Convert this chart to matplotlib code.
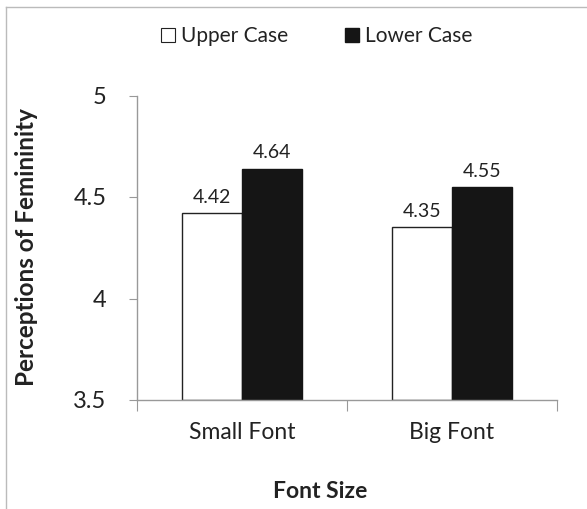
import numpy as np
import matplotlib.pyplot as plt
from matplotlib.lines import Line2D

plt.rcParams['font.family'] = ['Lato', 'DejaVu Sans']

categories = ['Small Font', 'Big Font']
upper_case = [4.42, 4.35]
lower_case = [4.64, 4.55]
series_names = ['Upper Case', 'Lower Case']

fig = plt.figure(figsize=(5.87, 5.09), dpi=100)
ax = fig.add_axes([137/587, 1 - 400/509, 420/587, 304.5/509])

x = np.arange(len(categories))
w = 60/210
ax.bar(x - w/2, np.array(upper_case) - 3.5, w, bottom=3.5,
       color='white', edgecolor='#222222', linewidth=1.0, label=series_names[0])
ax.bar(x + w/2, np.array(lower_case) - 3.5, w, bottom=3.5,
       color='#151515', edgecolor='#151515', linewidth=1.0, label=series_names[1])

# value labels above bars
for xs, vals in [(x - w/2, upper_case), (x + w/2, lower_case)]:
    for xi, v in zip(xs, vals):
        ax.text(xi, v + 0.035, '%.2f' % v, ha='center', va='bottom', fontsize=14, color='#222222')

ax.set_xlim(-0.5, 1.5)
ax.set_ylim(3.5, 5)
ax.set_yticks([3.5, 4, 4.5, 5])
ax.set_yticklabels(['3.5', '4', '4.5', '5'])
ax.set_xticks([-0.5, 0.5, 1.5], minor=False)
ax.set_xticklabels([])
ax.set_xticks(x, minor=True)
ax.set_xticklabels(categories, minor=True)
ax.tick_params(axis='x', which='major', length=8, color='#999999', direction='out')
ax.tick_params(axis='x', which='minor', length=0, pad=16, labelsize=16.5, labelcolor='#222222')
ax.tick_params(axis='y', length=6, color='#999999', pad=16, labelsize=17, labelcolor='#222222')

for s in ['top', 'right']:
    ax.spines[s].set_visible(False)
for s in ['left', 'bottom']:
    ax.spines[s].set_color('#999999')
    ax.spines[s].set_linewidth(1.0)

fig.text(27/587, 1 - 247/509, 'Perceptions of Femininity', rotation=90, ha='center', va='center',
         fontsize=17.5, fontweight='bold', color='#222222')
fig.text(320/587, 1 - 492/509, 'Font Size', ha='center', va='center',
         fontsize=16.5, fontweight='bold', color='#222222')

handles = [Line2D([], [], marker='s', linestyle='', markersize=10, markerfacecolor='white',
                  markeredgecolor='#222222', markeredgewidth=0.8),
           Line2D([], [], marker='s', linestyle='', markersize=10, markerfacecolor='#151515',
                  markeredgecolor='#151515')]
fig.legend(handles, series_names, loc='center', bbox_to_anchor=(315/587, 1 - 36/509), ncol=2,
           frameon=False, fontsize=15, handletextpad=0.1, columnspacing=2.6, handlelength=1.0,
           labelcolor='#222222')

# light frame around the chart area (left and top edges visible)
fig.add_artist(Line2D([6/587, 6/587], [0, 1 - 7/509], color='#bbbbbb', linewidth=1.0))
fig.add_artist(Line2D([6/587, 1], [1 - 7/509, 1 - 7/509], color='#bbbbbb', linewidth=1.0))

fig.savefig('out.png', dpi=100)
